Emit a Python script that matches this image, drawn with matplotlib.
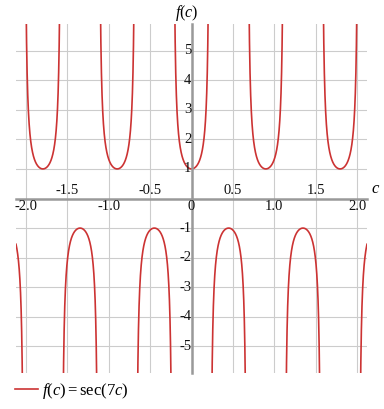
import numpy as np
import matplotlib
matplotlib.use("Agg")
import matplotlib.pyplot as plt

# f(c) = sec(k c) on the shown window
k = 7
c_min, c_max = -2.12, 2.12
y_min, y_max = -5.9, 5.9
x_ticks_below = [-2.0, -1.0, 0.0, 1.0, 2.0]
x_labels_below = ["-2.0", "-1.0", "0", "1.0", "2.0"]
x_ticks_above = [-1.5, -0.5, 0.5, 1.5]
x_labels_above = ["-1.5", "-0.5", "0.5", "1.5"]
y_ticks = [-5, -4, -3, -2, -1, 1, 2, 3, 4, 5]
y_labels = ["-5", "-4", "-3", "-2", "-1", "1", "2", "3", "4", "5"]

plt.rcParams['font.family'] = 'Liberation Serif'
plt.rcParams['mathtext.fontset'] = 'custom'
plt.rcParams['mathtext.rm'] = 'Liberation Serif'
plt.rcParams['mathtext.it'] = 'Liberation Serif:italic'

c = np.linspace(c_min, c_max, 40001)
f = 1 / np.cos(k * c)
f[np.abs(f) > 8] = np.nan

fig = plt.figure(figsize=(3.84, 4.09), dpi=100)
ax = fig.add_axes([16 / 384, 1 - 373 / 409, 351 / 384, 349 / 409])
ax.plot(c, f, color='#cc3333', lw=1.2, label=r'$f(c) = \mathrm{sec}(7c)$')
ax.set_xlim(c_min, c_max)
ax.set_ylim(y_min, y_max)

# grid
ax.set_xticks(np.arange(-2.0, 2.01, 0.5))
ax.set_yticks(y_ticks)
ax.grid(color='#cccccc', lw=0.8)
ax.tick_params(length=0, labelbottom=False, labelleft=False)

for s in ['top', 'right']:
    ax.spines[s].set_visible(False)
ax.spines['left'].set_position(('data', 0))
ax.spines['bottom'].set_position(('data', 0))
for s in ['left', 'bottom']:
    ax.spines[s].set_color('#999999')
    ax.spines[s].set_linewidth(1.8)

fs = 10.5
for x, lab in zip(x_ticks_below, x_labels_below):
    ax.annotate(lab, (x, 0), xytext=(0, -1), textcoords='offset points',
                ha='center', va='top', fontsize=fs, color='#111111')
for x, lab in zip(x_ticks_above, x_labels_above):
    ax.annotate(lab, (x, 0), xytext=(0, 3), textcoords='offset points',
                ha='center', va='baseline', fontsize=fs, color='#111111')
for y, lab in zip(y_ticks, y_labels):
    ax.annotate(lab, (0, y), xytext=(0, 0), textcoords='offset points',
                ha='right', va='center', fontsize=fs, color='#111111')

fig.text(187 / 384, 1 - 3 / 409, r'$f(c)$', ha='center', va='top', fontsize=11.5)
ax.annotate(r'$c$', (1, 0), xycoords=('axes fraction', 'data'),
            xytext=(3, 1), textcoords='offset points',
            ha='left', va='bottom', fontsize=12)

fig.legend(loc='lower left', bbox_to_anchor=(0.0, -0.017), frameon=False,
           fontsize=12, handlelength=1.4, handletextpad=0.25)

fig.savefig('out.png', dpi=100)
